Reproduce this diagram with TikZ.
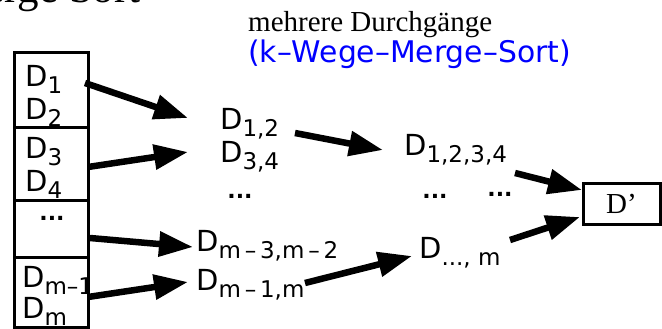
\documentclass[tikz,border=0pt]{standalone}
\usepackage{fontspec}
\setmainfont{Liberation Serif}
\newfontfamily\lab{DejaVu Sans}
\usetikzlibrary{arrows.meta}
\newcommand\Dsub[1]{\raisebox{-7pt}{\fontsize{23}{23}\selectfont #1}}
\tikzset{
  lbl/.style={inner sep=0pt, anchor=base west, font=\lab\fontsize{29}{29}\selectfont},
  dots/.style={inner sep=0pt, font=\lab\bfseries\fontsize{22}{22}\selectfont},
  arr/.style={line width=6.5pt, -{Triangle[length=34pt,width=24pt]}},
  frame/.style={line width=3pt}
}
\begin{document}
\begin{tikzpicture}[x=1pt,y=-1pt]
\useasboundingbox (0,0) rectangle (662,329);
% title (clipped)
\node[inner sep=0pt, anchor=base east, font=\fontsize{43}{43}\selectfont] (title) at (141,3) {Merge Sort};
\node[inner sep=0pt, anchor=base west, font=\fontsize{29}{29}\selectfont] (meh) at (248,32) {mehrere Durchgänge};
\node[inner sep=0pt, anchor=base west, text=blue, font=\lab\fontsize{29.8}{29.8}\selectfont] (kw) at (248,63) {(k–Wege–Merge–Sort)};
% left column
\begin{scope}
\clip (14,53) rectangle (88,327);
\node[lbl] (d1) at (25,87) {D\Dsub{1}};
\node[lbl] (d2) at (25,120) {D\Dsub{2}};
\node[lbl] (d3) at (25,158) {D\Dsub{3}};
\node[lbl] (d4) at (25,191) {D\Dsub{4}};
\node[dots] (ld) at (52,218) {...};
\node[lbl] (dm1) at (22,287) {D\Dsub{m–1}};
\node[lbl] (dm) at (22,318) {D\Dsub{m}};
\end{scope}
\draw[frame] (14,53) rectangle (88,327);
\draw[frame] (14,127) -- (88,127);
\draw[frame] (14,200) -- (88,200);
\draw[frame] (14,257) -- (88,257);
% middle column
\node[lbl] (d12) at (220,129) {D\Dsub{1,2}};
\node[lbl] (d34) at (220,162) {D\Dsub{3,4}};
\node[dots] (md) at (240,196) {...};
\node[lbl] (dm32) at (196,251) {D\Dsub{m\,–\,3,m\,–\,2}};
\node[lbl] (dm1m) at (196,290) {D\Dsub{m\,–\,1,m}};
% right column
\node[lbl] (d1234) at (404,155) {D\Dsub{1,2,3,4}};
\node[dots] (rd1) at (435,196) {...};
\node[dots] (rd2) at (500,194) {...};
\node[lbl] (ddm) at (419,258) {D\Dsub{..., m}};
% result
\node[frame, draw, minimum width=77pt, minimum height=41pt, inner sep=0pt, font=\fontsize{29}{29}\selectfont] (res) at (621.5,203.5) {D’};
% arrows
\coordinate (s1) at (85,83);  \coordinate (t1) at (188,118);
\coordinate (s2) at (88,167); \coordinate (t2) at (188,152);
\coordinate (s3) at (90,238); \coordinate (t3) at (193,247);
\coordinate (s4) at (88,297); \coordinate (t4) at (188,282);
\coordinate (s5) at (295,133); \coordinate (t5) at (383,150);
\coordinate (s6) at (305,283); \coordinate (t6) at (412,256);
\coordinate (s7) at (515,173); \coordinate (t7) at (582,190);
\coordinate (s8) at (510,240); \coordinate (t8) at (580,217);
\foreach \i in {1,...,8} \draw[arr] (s\i) -- (t\i);
\end{tikzpicture}
\end{document}
